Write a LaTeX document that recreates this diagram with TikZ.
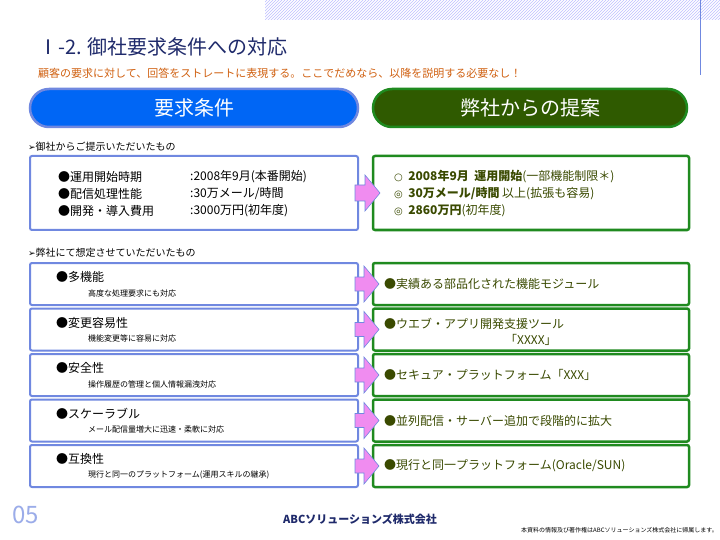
\documentclass[tikz,border=0pt]{standalone}
\usepackage{fontspec}
\setmainfont{Noto Sans CJK JP}
\newfontfamily\jp{Noto Sans CJK JP}
\newfontfamily\dv{DejaVu Sans}
\usetikzlibrary{patterns}
\definecolor{navy}{HTML}{1F2A6B}
\definecolor{orng}{HTML}{D06010}
\definecolor{pblue}{HTML}{0066F5}
\definecolor{lblue}{HTML}{7088E0}
\definecolor{dgreen}{HTML}{2F5A00}
\definecolor{bgreen}{HTML}{1F8A1F}
\definecolor{tgreen}{HTML}{3A4A00}
\definecolor{pink}{HTML}{F08CF0}
\begin{document}
\begin{tikzpicture}[x=1pt,y=-1pt,
  lbox/.style={draw=lblue,line width=2pt,fill=white,rounded corners=2pt},
  rbox/.style={draw=bgreen,line width=2.5pt,fill=white,rounded corners=2pt},
  parr/.style={draw=lblue,fill=pink,line width=0.6pt},
  itm/.style={anchor=west,font=\fontsize{12}{13}\selectfont,text=black,inner sep=0pt},
  sub/.style={anchor=west,font=\fontsize{8}{9}\selectfont,inner sep=0pt},
  ritm/.style={anchor=west,font=\fontsize{12}{13}\selectfont,text=tgreen,inner sep=0pt}]
\useasboundingbox (0,0) rectangle (720,540);
\fill[white] (0,0) rectangle (720,540);
\fill[pattern=north east lines,pattern color=blue!25] (265,0) rectangle (720,20);
\draw[lblue,line width=0.8pt] (700,0) -- (700,75);
\node[anchor=west,text=navy,font=\fontsize{20}{22}\selectfont,inner sep=0pt] (title) at (38,47) {Ⅰ-2. 御社要求条件への対応};
\node[anchor=west,text=orng,font=\fontsize{11}{12}\selectfont,inner sep=0pt] (subt) at (38,73) {顧客の要求に対して、回答をストレートに表現する。ここでだめなら、以降を説明する必要なし！};
\node[draw=lblue,line width=2.5pt,fill=pblue,rounded corners=19pt,minimum width=328pt,minimum height=38pt,text=white,font=\fontsize{20}{22}\selectfont] (req) at (194,108) {要求条件};
\node[draw=bgreen,line width=2.5pt,fill=dgreen,rounded corners=19pt,minimum width=314pt,minimum height=38pt,text=white,font=\fontsize{20}{22}\selectfont] (prop) at (530,108) {弊社からの提案};
\node[anchor=west,font=\fontsize{10}{11}\selectfont,inner sep=0pt] (h1) at (28,147) {{\dv\fontsize{9}{10}\selectfont ➢}御社からご提示いただいたもの};
\node[lbox,minimum width=328pt,minimum height=74pt] (L0) at (194,193) {};
\node[rbox,minimum width=316pt,minimum height=74pt] (R0) at (531,193) {};
\draw[parr] (355,185) -- (365,185) -- (365,175) -- (380,193) -- (365,211) -- (365,201) -- (355,201) -- cycle;
\node[itm] (a1) at (58,177) {●運用開始時期};
\node[itm] (a2) at (58,194) {●配信処理性能};
\node[itm] (a3) at (58,211) {●開発・導入費用};
\node[itm] (b1) at (190,177) {:2008年9月(本番開始)};
\node[itm] (b2) at (190,194) {:30万メール/時間};
\node[itm] (b3) at (190,211) {:3000万円(初年度)};
\node[ritm] (c1) at (394,177) {{\dv\fontsize{10}{12}\selectfont ○}\ \ \textbf{2008年9月\ \ 運用開始}(一部機能制限＊)};
\node[ritm] (c2) at (394,194) {{\dv\fontsize{10}{12}\selectfont ◎}\ \ \textbf{30万メール/時間} 以上(拡張も容易)};
\node[ritm] (c3) at (394,211) {{\dv\fontsize{10}{12}\selectfont ◎}\ \ \textbf{2860万円}(初年度)};
\node[anchor=west,font=\fontsize{10}{11}\selectfont,inner sep=0pt] (h2) at (28,253) {{\dv\fontsize{9}{10}\selectfont ➢}弊社にて想定させていただいたもの};
\foreach \i/\t/\s/\r [count=\k] in {
 0/多機能/高度な処理要求にも対応/{●実績ある部品化された機能モジュール},
 1/変更容易性/機能変更等に容易に対応/{},
 2/安全性/操作履歴の管理と個人情報漏洩対応/{●セキュア・プラットフォーム「XXX」},
 3/スケーラブル/メール配信量増大に迅速・柔軟に対応/{●並列配信・サーバー追加で段階的に拡大},
 4/互換性/現行と同一のプラットフォーム(運用スキルの継承)/{●現行と同一プラットフォーム(Oracle/SUN)}}{
  \pgfmathsetmacro\yc{284+45.5*\i}
  \node[lbox,minimum width=328pt,minimum height=42pt] (L\k) at (194,\yc) {};
  \node[rbox,minimum width=316pt,minimum height=42pt] (R\k) at (531,\yc) {};
  \draw[parr] (355,\yc-7) -- (364,\yc-7) -- (364,\yc-18) -- (379,\yc) -- (364,\yc+18) -- (364,\yc+7) -- (355,\yc+7) -- cycle;
  \node[itm] (m\k) at (56,\yc-7) {●\t};
  \node[sub] (s\k) at (88,\yc+9) {\s};
  \node[ritm] (r\k) at (384,\yc) {\r};
}
\node[ritm] (r2a) at (384,324) {●ウエブ・アプリ開発支援ツール};
\node[ritm] (r2b) at (505,340) {「XXXX」};
\node[anchor=west,text=lblue!70,font=\fontsize{24}{26}\selectfont,inner sep=0pt] (pg) at (12,515) {05};
\node[font=\fontsize{11}{12}\selectfont\bfseries,text=navy] (co) at (360,519) {ABCソリューションズ株式会社};
\node[anchor=east,font=\fontsize{6}{7}\selectfont,inner sep=0pt] (cp) at (718,530) {本資料の情報及び著作権はABCソリューションズ株式会社に帰属します。};
\end{tikzpicture}
\end{document}
